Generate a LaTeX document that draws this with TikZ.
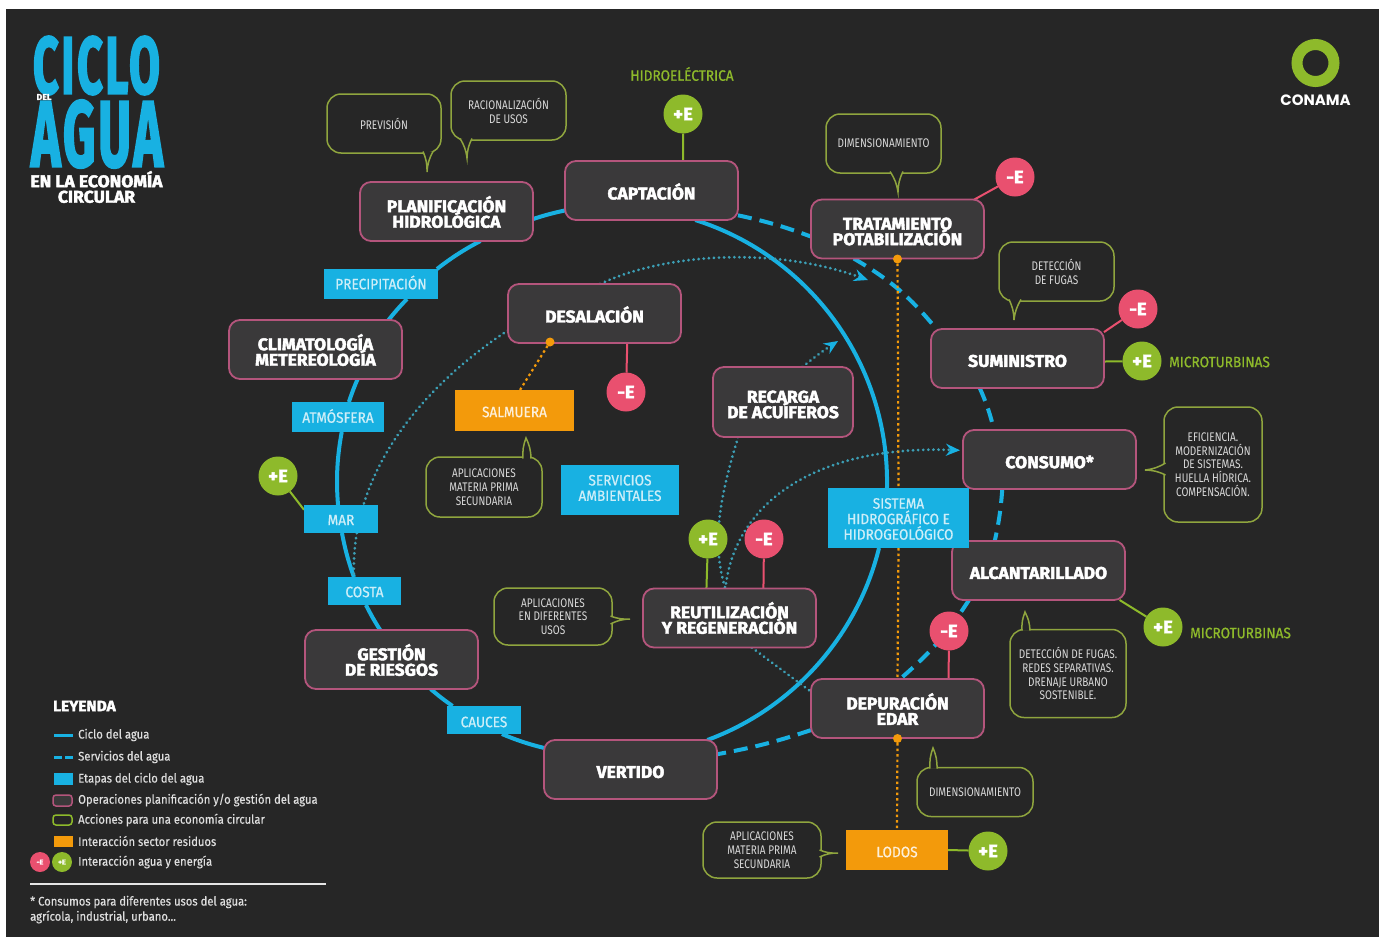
\documentclass[tikz,border=0pt]{standalone}
\usepackage{fontspec}
\usetikzlibrary{backgrounds,arrows.meta,calc}
\setmainfont{Fira Sans}
\newfontfamily\heavyf{Fira Sans}[FakeStretch=1.03,BoldFeatures={FakeBold=2.4}]
\newfontfamily\titlef{Fira Sans}[LetterSpace=6,BoldFeatures={FakeBold=3}]
\newfontfamily\midf{Fira Sans}[FakeStretch=.91,FakeBold=.7]
\newfontfamily\thinf{Fira Sans}[FakeStretch=.8]
\newfontfamily\legf{Fira Sans}[FakeStretch=.9,FakeBold=.4]
\newfontfamily\logof{Poppins}
\newcommand\dn[2][2.5]{\raisebox{-#1pt}[\height][\depth]{#2}}
\newcommand\tightlines{\lineskiplimit=-100pt\relax}
\definecolor{bg}{HTML}{262626}
\definecolor{opfill}{HTML}{3A393A}
\definecolor{opline}{HTML}{B4557C}
\definecolor{cyan1}{HTML}{18B1E2}
\definecolor{dotblue}{HTML}{3C9FB5}
\definecolor{orange1}{HTML}{F39A0B}
\definecolor{green1}{HTML}{8EBA2B}
\definecolor{green2}{HTML}{8FA53E}
\definecolor{red1}{HTML}{E9506F}
\definecolor{paleb}{HTML}{CDEEF8}
\tikzset{
  opbox/.style={draw=opline,line width=1.8pt,fill=opfill,rounded corners=11pt,minimum width=173pt,minimum height=59pt,align=center,inner sep=0pt,outer sep=0pt,text=white,font=\heavyf\bfseries\fontsize{17}{15.5}\selectfont\tightlines},
  stage/.style={fill=cyan1,inner sep=0pt,outer sep=0pt,align=center,text=paleb,font=\midf\fontsize{15}{15.5}\selectfont\tightlines},
  waste/.style={fill=orange1,inner sep=0pt,outer sep=0pt,align=center,text=white!85!orange1,font=\midf\fontsize{15}{15.5}\selectfont},
  action/.style={draw=green2,line width=1.5pt,rounded corners=14pt,inner sep=0pt,outer sep=0pt,align=center,text=white!85!black,font=\thinf\fontsize{12.5}{13.8}\selectfont\tightlines},
  calltail/.style={draw=green2,line width=1.5pt,fill=bg},
  plusE/.style={circle,fill=green1,minimum size=39pt,inner sep=0pt,outer sep=0pt,text=white,font=\heavyf\bfseries\fontsize{18}{18}\selectfont},
  minusE/.style={circle,fill=red1,minimum size=39pt,inner sep=0pt,outer sep=0pt,text=white,font=\heavyf\bfseries\fontsize{18}{18}\selectfont},
  odot/.style={circle,fill=orange1,minimum size=9pt,inner sep=0pt,outer sep=0pt},
  cycleline/.style={draw=cyan1,line width=4pt,looseness=.9},
  servline/.style={draw=cyan1,line width=4pt,dash pattern=on 14pt off 8pt},
  flowline/.style={draw=dotblue,line width=3pt,line cap=round,dash pattern=on 0.1pt off 5pt},
  flowarrow/.style={flowline,-{Stealth[length=14pt,width=12pt,color=cyan1]}},
  wasteline/.style={draw=orange1,line width=2.2pt,dash pattern=on 2.5pt off 3pt},
  glink/.style={draw=green1,line width=2pt},
  rlink/.style={draw=red1,line width=2pt},
  energylabel/.style={text=green1,inner sep=0pt,font=\midf\fontsize{15}{15}\selectfont},
  legtext/.style={anchor=west,inner sep=0pt,text=white!87!black,font=\legf\fontsize{12.5}{14}\selectfont},
}
\begin{document}
\begin{tikzpicture}[x=1pt,y=-1pt]
\useasboundingbox (0,0) rectangle (1379,937);
\begin{scope}[on background layer]
  \fill[white] (0,0) rectangle (1379,937);
  \fill[bg] (6,9) rectangle (1379,937);
\end{scope}

% title
\node[text=cyan1,inner sep=0pt] (tciclo) at (96.5,65.5) {\resizebox{127pt}{57pt}{\titlef\bfseries CICLO}};
\node[text=white,inner sep=0pt,font=\heavyf\bfseries\fontsize{8.5}{9}\selectfont] (tdel) at (44,97) {DEL};
\node[text=cyan1,inner sep=0pt] (tagua) at (97,134) {\resizebox{132pt}{66pt}{\titlef\bfseries AGUA}};
\node[text=white,inner sep=0pt,align=center,font=\heavyf\bfseries\fontsize{17}{15.5}\selectfont\tightlines] (tsub) at (96.5,187) {EN LA ECONOMÍA\\CIRCULAR};

% logo
\node[circle,draw=green1,line width=11pt,minimum size=37pt,inner sep=0pt] (ring) at (1315.5,63) {};
\node[text=white,inner sep=0pt,font=\logof\bfseries\fontsize{15}{15}\selectfont] (conama) at (1315.5,100) {CONAMA};

% operation boxes
\node[opbox] (plan) at (446.5,211.5) {\dn[0.5]{PLANIFICACIÓN}\\\dn[0.5]{HIDROLÓGICA}};
\node[opbox] (capt) at (651.5,190.5) {\dn[1]{CAPTACIÓN}};
\node[opbox] (trat) at (897.5,229) {\dn{TRATAMIENTO}\\\dn{POTABILIZACIÓN}};
\node[opbox] (sumi) at (1017.5,358.5) {\dn{SUMINISTRO}};
\node[opbox] (cons) at (1049.5,459.5) {\dn{CONSUMO*}};
\node[opbox] (alc) at (1038.5,570.5) {\dn{ALCANTARILLADO}};
\node[opbox] (dep) at (897.5,708.5) {\dn[0.5]{DEPURACIÓN}\\\dn[0.5]{EDAR}};
\node[opbox] (vert) at (630.5,769.5) {\dn{VERTIDO}};
\node[opbox] (gest) at (391.5,659.5) {\dn[0.5]{GESTIÓN}\\\dn[0.5]{DE RIESGOS}};
\node[opbox] (clim) at (315.5,349.5) {\dn[0.5]{CLIMATOLOGÍA}\\\dn[0.5]{METEREOLOGÍA}};
\node[opbox] (desal) at (594.5,313.5) {\dn[1]{DESALACIÓN}};
\node[opbox,minimum width=140pt,minimum height=70pt] (rec) at (783,402) {\dn{RECARGA}\\\dn{DE ACUÍFEROS}};
\node[opbox] (reut) at (729.5,618) {\dn[0]{REUTILIZACIÓN}\\\dn[0]{Y REGENERACIÓN}};

% stage boxes
\node[stage,minimum width=114pt,minimum height=30pt] (prec) at (381,284) {\dn[-1.5]{PRECIPITACIÓN}};
\node[stage,minimum width=92pt,minimum height=30pt] (atm) at (338,417) {\dn[-1]{ATMÓSFERA}};
\node[stage,minimum width=74pt,minimum height=28pt] (mar) at (341,519) {\dn[1]{MAR}};
\node[stage,minimum width=73pt,minimum height=28pt] (costa) at (364.5,591) {\dn[1]{COSTA}};
\node[stage,minimum width=74pt,minimum height=28pt] (cauces) at (484,720) {\dn[2]{CAUCES}};
\node[stage,minimum width=141pt,minimum height=60pt] (sist) at (898.5,518) {\dn[1]{SISTEMA}\\\dn[1]{HIDROGRÁFICO E}\\\dn[1]{HIDROGEOLÓGICO}};
\node[stage,minimum width=118pt,minimum height=50pt] (serv) at (620,490) {\dn[-2]{SERVICIOS}\\\dn[-2]{AMBIENTALES}};

% waste boxes
\node[waste,minimum width=119pt,minimum height=41pt] (salm) at (514.5,410.5) {\dn[1.5]{SALMUERA}};
\node[waste,minimum width=102pt,minimum height=40pt] (lodos) at (897,850) {\dn[2]{LODOS}};

% action callouts
\node[action,minimum width=114pt,minimum height=59pt] (aprev) at (384,123.5) {PREVISIÓN};
\draw[calltail] (423,151.5) to[bend left=12] (427,172) to[bend left=12] (433,151.5);
\node[action,minimum width=115pt,minimum height=59pt] (araci) at (508.5,110.5) {RACIONALIZACIÓN\\DE USOS};
\draw[calltail] (460,138.5) to[bend left=12] (467,158) to[bend left=12] (472,138.5);
\node[action,minimum width=115pt,minimum height=59pt] (adim) at (883.5,143.5) {DIMENSIONAMIENTO};
\draw[calltail] (890,171.5) to[bend left=12] (898,192) to[bend left=12] (903,171.5);
\node[action,minimum width=115pt,minimum height=59pt] (adet) at (1056.5,271.5) {DETECCIÓN\\DE FUGAS};
\draw[calltail] (1009,299.5) to[bend left=12] (1014,320) to[bend left=12] (1021,299.5);
\node[action,minimum width=98pt,minimum height=115pt] (aefi) at (1213,464.5) {EFICIENCIA.\\MODERNIZACIÓN\\DE SISTEMAS.\\HUELLA HÍDRICA.\\COMPENSACIÓN.};
\draw[calltail] (1165.5,463) to[bend left=12] (1145,470) to[bend left=12] (1165.5,475);
\node[action,minimum width=116pt,minimum height=88pt] (adren) at (1068,673.5) {DETECCIÓN DE FUGAS.\\REDES SEPARATIVAS.\\DRENAJE URBANO\\SOSTENIBLE.};
\draw[calltail] (1022,630.5) to[bend left=12] (1025,612) to[bend left=12] (1030,630.5);
\node[action,minimum width=116pt,minimum height=49pt] (adim2) at (975,792) {DIMENSIONAMIENTO};
\draw[calltail] (930,768.5) to[bend left=12] (933,748) to[bend left=12] (937,768.5);
\node[action,minimum width=116pt,minimum height=60pt] (amat) at (484,487) {APLICACIONES\\MATERIA PRIMA\\SECUNDARIA};
\draw[calltail] (523,458.5) to[bend left=12] (526,438) to[bend left=12] (531,458.5);
\node[action,minimum width=118pt,minimum height=57pt] (adif) at (553,616.5) {APLICACIONES\\EN DIFERENTES\\USOS};
\draw[calltail] (610.5,616) to[bend right=12] (630,619) to[bend right=12] (610.5,624);
\node[action,minimum width=118pt,minimum height=56pt] (amat2) at (762,850) {APLICACIONES\\MATERIA PRIMA\\SECUNDARIA};
\draw[calltail] (819.5,850) to[bend right=12] (838,853) to[bend right=12] (819.5,857);

% energy circles
\node[plusE] (ehid) at (683,114) {+E};
\node[plusE] (esum) at (1142,361) {+E};
\node[plusE] (ealc) at (1163,627) {+E};
\node[plusE] (emar) at (278,476) {+E};
\node[plusE] (ereu) at (708,539) {+E};
\node[plusE] (elod) at (988,851) {+E};
\node[minusE] (mtra) at (1015,177) {-E};
\node[minusE] (msum) at (1138,309) {-E};
\node[minusE] (mdes) at (626,392) {-E};
\node[minusE] (mreu) at (764,539) {-E};
\node[minusE] (mdep) at (949,631) {-E};

\node[energylabel] (lhid) at (682,74) {HIDROELÉCTRICA};
\node[energylabel,anchor=west] (lsum) at (1169,362) {MICROTURBINAS};
\node[energylabel,anchor=west] (lalc) at (1190,633) {MICROTURBINAS};

% waste dots
\node[odot] (dtra) at (897.5,259) {};
\node[odot] (ddep) at (897.5,738.5) {};
\node[odot] (ddes) at (550,342) {};

% legend
\node[anchor=west,inner sep=0pt,text=white,font=\heavyf\bfseries\fontsize{15}{15}\selectfont] (legtit) at (53,706) {LEYENDA};
\coordinate (l1a) at (54,735); \coordinate (l1b) at (73,735);
\coordinate (l2a) at (54,757); \coordinate (l2b) at (73,757);
\draw[cycleline,line width=3pt] (l1a) -- (l1b);
\draw[servline,line width=3pt,dash pattern=on 8pt off 3pt] (l2a) -- (l2b);
\node[legtext] (lt1) at (78,735) {Ciclo del agua};
\node[legtext] (lt2) at (78,757) {Servicios del agua};
\node[fill=cyan1,minimum width=19pt,minimum height=12pt,inner sep=0pt] (ls3) at (63,779) {};
\node[legtext] (lt3) at (78,779) {Etapas del ciclo del agua};
\node[draw=opline,line width=1.5pt,fill=opfill,rounded corners=3pt,minimum width=19pt,minimum height=11pt,inner sep=0pt] (ls4) at (62.5,800.5) {};
\node[legtext] (lt4) at (78,800) {Operaciones planificación y/o gestión del agua};
\node[draw=green1,line width=1.5pt,rounded corners=3pt,minimum width=19pt,minimum height=10pt,inner sep=0pt] (ls5) at (62.5,820) {};
\node[legtext] (lt5) at (78,820) {Acciones para una economía circular};
\node[fill=orange1,minimum width=19pt,minimum height=11pt,inner sep=0pt] (ls6) at (63,841) {};
\node[legtext] (lt6) at (78,841) {Interacción sector residuos};
\node[circle,fill=red1,minimum size=20pt,inner sep=0pt,text=white,font=\heavyf\bfseries\fontsize{7}{7}\selectfont] (ls7a) at (40,862) {-E};
\node[circle,fill=green1,minimum size=20pt,inner sep=0pt,text=white,font=\heavyf\bfseries\fontsize{7}{7}\selectfont] (ls7b) at (62,862) {+E};
\node[legtext] (lt7) at (78,862) {Interacción agua y energía};
\coordinate (rulea) at (30,884); \coordinate (ruleb) at (326,884);
\draw[white!90!black,line width=1.5pt] (rulea) -- (ruleb);
\node[legtext] (lf1) at (30,902) {* Consumos para diferentes usos del agua:};
\node[legtext] (lf2) at (30,917) {agrícola, industrial, urbano...};

% connectors under the nodes
\coordinate (arrA) at (868,280);
\coordinate (arrB) at (838,341);
\begin{scope}[on background layer]
  % water cycle
  \draw[cycleline,looseness=.95] (capt.-34) to[bend left=36.8] (sist.111);
  \draw[cycleline] (sist.237) to[bend left=28] (vert.21);
  \draw[cycleline] (vert.166) to[bend left=4.6] (cauces.-38);
  \draw[cycleline] (cauces.156) to[bend left=3] (gest.-37);
  \draw[cycleline] (gest.111) to[bend left=3] (costa.-84);
  \draw[cycleline] (costa.127) to[bend left=4.7] (mar.-86);
  \draw[cycleline] (mar.102) to[bend left=7.6] (atm.-76);
  \draw[cycleline] (atm.54) to[bend left=2.6] (clim.-35);
  \draw[cycleline] (clim.22) to[bend left=2.9] (prec.-30);
  \draw[cycleline] (prec.15) to[bend left=5.2] (plan.-41);
  \draw[cycleline] (plan.-5) to[bend left=3.4] (capt.193);
  % water services
  \draw[servline] (capt.-16) to[bend left=4] (trat.185);
  \draw[servline] (trat.214) to[bend left=10] (sumi.160);
  \draw[servline] (sumi.218) to[bend left=5] (cons.152);
  \draw[servline] (cons.212) to[bend left=4] (alc.146);
  \draw[servline] (alc.203) to[bend left=8] (dep.85);
  \draw[servline] (dep.194) to[bend left=4] (vert.10);
  % flows
  \draw[flowarrow] (desal.79) .. controls (660,255) and (770,245) .. (arrA);
  \draw[flowline] (desal.191) .. controls (425,385) and (350,470) .. (costa.127);
  \draw[flowarrow] (rec.61) to[bend left=3] (arrB);
  \draw[flowline] (rec.218) .. controls (722,490) and (710,540) .. (reut.98);
  \draw[flowarrow,shorten >=3pt] (reut.98) .. controls (735,500) and (820,445) .. (cons.174);
  \draw[flowline] (reut.-53) to (dep.169);
  % waste
  \draw[wasteline] (dtra) -- (sist.north);
  \draw[wasteline] (sist.south) -- (dep.north);
  \draw[wasteline] (ddep) -- (lodos.north);
  \draw[wasteline] (ddes) -- (salm.75);
  % energy links
  \draw[glink] (ehid) -- (capt.43);
  \draw[glink] (esum) -- (sumi.-2);
  \draw[glink] (ealc) -- (alc.-20);
  \draw[glink] (emar) -- (mar.166);
  \draw[glink] (ereu) -- (reut.128);
  \draw[glink] (elod) -- (lodos.east);
  \draw[rlink] (mtra) -- (trat.21);
  \draw[rlink] (msum) -- (sumi.17);
  \draw[rlink] (mdes) -- (desal.-42);
  \draw[rlink] (mreu) -- (reut.41);
  \draw[rlink] (mdep) -- (dep.30);
\end{scope}
\end{tikzpicture}
\end{document}
